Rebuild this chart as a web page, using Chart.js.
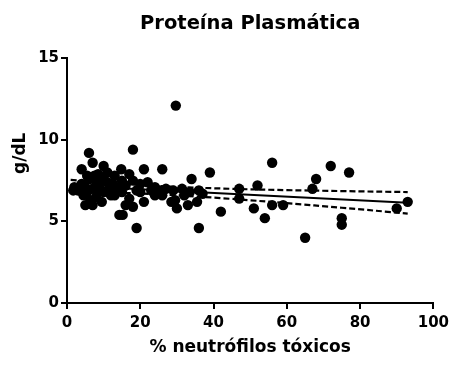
<!DOCTYPE html>
<html>
<head>
<meta charset="utf-8">
<script src="https://cdn.jsdelivr.net/npm/chart.js@4.4.1/dist/chart.umd.min.js"></script>
<style>
  html, body { margin: 0; padding: 0; background: #fff; }
  #wrap { width: 454px; height: 365px; }
</style>
</head>
<body>
<div id="wrap"><canvas id="chart" width="454" height="365"></canvas></div>
<script>
// % toxic neutrophils vs plasma protein (g/dL)
const neutrofilos = [
  1.7, 2, 2.5, 3, 4, 4, 4.5, 5, 5, 5.5, 5.5, 6, 6, 6.5, 7, 7, 7, 7.5, 8, 8, 8.5,
  9, 9, 9.5, 10, 10, 10, 11, 11, 12, 12, 12.5, 13, 13, 14, 14.3, 14.8, 15, 15, 15.2,
  16, 16, 17, 17, 18, 18, 18, 19, 19, 20, 20, 21, 21, 22, 23, 24, 24, 25, 26, 26, 27,
  28.5, 29, 29.7, 29.5, 30,
  31.4, 32, 33, 33.5, 34, 35.5, 36, 36, 37, 39, 42,
  47, 47, 51, 52, 54, 56, 56, 59, 65, 67, 68, 72, 75, 75, 77, 90, 93
]
const proteina = [
  6.9, 7.1, 7.0, 6.9, 8.2, 7.3, 6.6, 7.1, 6.0, 6.8, 7.8, 9.2, 7.6, 6.3, 8.6, 7.0, 6.0, 7.8, 7.3, 6.5, 7.9,
  7.0, 7.4, 6.2, 8.4, 7.6, 6.8, 7.4, 8.0, 7.1, 6.6, 7.3, 7.8, 6.6, 7.0, 5.4, 8.2, 7.5, 6.8, 5.4,
  6.0, 7.2, 6.4, 7.9, 9.4, 7.5, 5.9, 4.6, 6.9, 7.3, 6.8, 8.2, 6.2, 7.4, 6.9, 7.1, 6.6, 6.9, 8.2, 6.6, 7.0,
  6.2, 6.9, 12.1, 6.3, 5.8,
  7.0, 6.6, 6.0, 6.8, 7.6, 6.2, 6.9, 4.6, 6.7, 8.0, 5.6,
  7.0, 6.4, 5.8, 7.2, 5.2, 8.6, 6.0, 6.0, 4.0, 7.0, 7.6, 8.4, 5.2, 4.8, 8.0, 5.8, 6.2
]

// fitted line and 95% confidence band
const ajusteX = [1, 93]
const ajusteY = [7.19, 6.14]
const bandaX = [1, 15, 30, 45, 60, 75, 93]
const bandaSup = [7.55, 7.31, 7.12, 7.0, 6.92, 6.86, 6.8]
const bandaInf = [6.83, 6.75, 6.6, 6.38, 6.12, 5.84, 5.48]

const xTicks = [0, 20, 40, 60, 80, 100]
const yTicks = [0, 5, 10, 15]

const toXY = (xs, ys) => xs.map((x, i) => ({ x: x, y: ys[i] }))

const fuente = 'DejaVu Sans'

// y axis title sits a bit above the middle of the axis
const tituloY = {
  id: 'tituloY',
  afterDraw(chart) {
    const { ctx, chartArea } = chart
    const cy = chartArea.top + (chartArea.bottom - chartArea.top) * 0.388
    ctx.save()
    ctx.translate(21, cy)
    ctx.rotate(-Math.PI / 2)
    ctx.font = 'bold 17px "' + fuente + '"'
    ctx.fillStyle = '#000'
    ctx.textAlign = 'center'
    ctx.textBaseline = 'middle'
    ctx.fillText('g/dL', 0, 0)
    ctx.restore()
  }
}

const lineaBase = {
  type: 'line',
  borderColor: '#000',
  borderWidth: 2.2,
  pointRadius: 0,
  fill: false,
  tension: 0.4,
  order: 0
}

new Chart(document.getElementById('chart'), {
  type: 'scatter',
  data: {
    datasets: [
      Object.assign({}, lineaBase, { data: toXY(ajusteX, ajusteY), tension: 0, borderWidth: 2 }),
      Object.assign({}, lineaBase, { data: toXY(bandaX, bandaSup), borderDash: [6, 3] }),
      Object.assign({}, lineaBase, { data: toXY(bandaX, bandaInf), borderDash: [6, 3] }),
      {
        data: toXY(neutrofilos, proteina),
        backgroundColor: '#000',
        borderWidth: 0,
        pointRadius: 5.2,
        order: 1
      }
    ]
  },
  options: {
    responsive: false,
    animation: false,
    layout: { padding: { left: 0, right: 17, top: 0, bottom: 0 } },
    plugins: {
      legend: { display: false },
      tooltip: { enabled: false },
      title: {
        display: true,
        fullSize: false,
        text: 'Proteína Plasmática',
        color: '#000',
        font: { family: fuente, size: 19.5, weight: 'bold' },
        padding: { top: 12.4, bottom: 22.5 }
      }
    },
    scales: {
      x: {
        type: 'linear',
        min: 0,
        max: 100,
        afterFit(scale) { scale.height = 62 },
        afterBuildTicks(scale) { scale.ticks = xTicks.map(v => ({ value: v })) },
        border: { color: '#000', width: 2 },
        grid: { drawOnChartArea: false, drawTicks: true, tickLength: 6, color: '#000', lineWidth: 2 },
        ticks: { color: '#000', padding: 5, maxRotation: 0, font: { family: fuente, size: 15, weight: 'bold' } },
        title: {
          display: true,
          text: '% neutrófilos tóxicos',
          color: '#000',
          font: { family: fuente, size: 17, weight: 'bold' },
          padding: { top: 0, bottom: 7 }
        }
      },
      y: {
        type: 'linear',
        min: 0,
        max: 15,
        afterFit(scale) { scale.width = 67 },
        afterBuildTicks(scale) { scale.ticks = yTicks.map(v => ({ value: v })) },
        border: { color: '#000', width: 2 },
        grid: { drawOnChartArea: false, drawTicks: true, tickLength: 6, color: '#000', lineWidth: 2 },
        ticks: { color: '#000', padding: 2, font: { family: fuente, size: 15, weight: 'bold' } }
      }
    }
  },
  plugins: [tituloY]
})
</script>
</body>
</html>
